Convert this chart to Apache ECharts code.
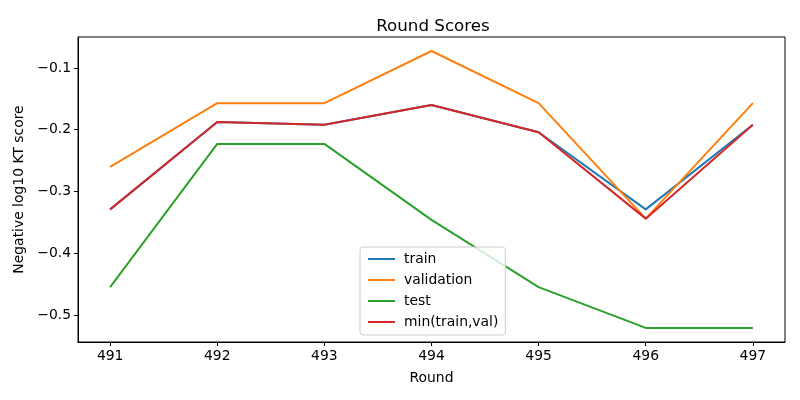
<!DOCTYPE html>
<html>
<head>
<meta charset="utf-8">
<script src="https://cdn.jsdelivr.net/npm/echarts@6/dist/echarts.min.js"></script>
<style>
  html, body { margin: 0; padding: 0; background: #fff; }
  #main { width: 800px; height: 400px; }
</style>
</head>
<body>
<div id="main"></div>
<script>
var rounds = [491, 492, 493, 494, 495, 496, 497];
var train = [-0.329, -0.1875, -0.192, -0.160, -0.204, -0.329, -0.192];
var validation = [-0.260, -0.157, -0.157, -0.0725, -0.157, -0.344, -0.157];
var test = [-0.455, -0.223, -0.223, -0.346, -0.455, -0.521, -0.521];
var minTrainVal = [-0.329, -0.1875, -0.192, -0.160, -0.204, -0.344, -0.192];
var yTicks = [-0.5, -0.4, -0.3, -0.2, -0.1];

var myChart = echarts.init(document.getElementById('main'));

function pairs(values) {
  return rounds.map(function (r, i) { return [r, values[i]]; });
}

function fmtY(v) {
  return (v < 0 ? '\u2212' : '') + Math.abs(v).toFixed(1);
}

var font = 'DejaVu Sans';
var lineSeries = function (name, values, color) {
  return {
    name: name,
    type: 'line',
    data: pairs(values),
    symbol: 'none',
    lineStyle: { color: color, width: 2 },
    itemStyle: { color: color },
    animation: false
  };
};

var option = {
  animation: false,
  title: {
    text: 'Round Scores',
    left: 428,
    top: 13,
    textAlign: 'center',
    textStyle: { fontFamily: font, fontSize: 16.7, fontWeight: 'normal', color: '#000' }
  },
  legend: {
    orient: 'vertical',
    left: 360,
    top: 247,
    padding: [5, 7, 6, 8],
    itemGap: 7,
    itemWidth: 27,
    itemHeight: 2,
    icon: 'rect',
    backgroundColor: 'rgba(255,255,255,0.8)',
    borderColor: '#cccccc',
    borderWidth: 1,
    borderRadius: 3,
    textStyle: { fontFamily: font, fontSize: 13.9, color: '#000', padding: [0, 0, 0, 4] },
    data: ['train', 'validation', 'test', 'min(train,val)']
  },
  grid: {
    left: 78, right: 15, top: 37, bottom: 58,
    show: true,
    borderColor: '#000',
    borderWidth: 1,
    containLabel: false
  },
  xAxis: {
    type: 'value',
    min: 490.7,
    max: 497.3,
    name: 'Round',
    nameLocation: 'middle',
    nameGap: 29,
    nameTextStyle: { fontFamily: font, fontSize: 13.9, color: '#000' },
    axisLine: { show: true, lineStyle: { color: '#000', width: 1 } },
    axisTick: { show: true, inside: false, length: 4, customValues: rounds, lineStyle: { color: '#000' } },
    axisLabel: { customValues: rounds, fontFamily: font, fontSize: 13.9, color: '#000', margin: 7 },
    splitLine: { show: false }
  },
  yAxis: {
    type: 'value',
    min: -0.5438,
    max: -0.0498,
    name: 'Negative log10 KT score',
    nameLocation: 'middle',
    nameGap: 49,
    nameTextStyle: { fontFamily: font, fontSize: 13.9, color: '#000' },
    axisLine: { show: true, lineStyle: { color: '#000', width: 1 } },
    axisTick: { show: true, inside: false, length: 4, customValues: yTicks, lineStyle: { color: '#000' } },
    axisLabel: { customValues: yTicks, formatter: fmtY, fontFamily: font, fontSize: 13.9, color: '#000', margin: 7 },
    splitLine: { show: false }
  },
  series: [
    lineSeries('train', train, '#1f77b4'),
    lineSeries('validation', validation, '#ff7f0e'),
    lineSeries('test', test, '#2ca02c'),
    lineSeries('min(train,val)', minTrainVal, '#d62728')
  ]
};

myChart.setOption(option);
</script>
</body>
</html>
